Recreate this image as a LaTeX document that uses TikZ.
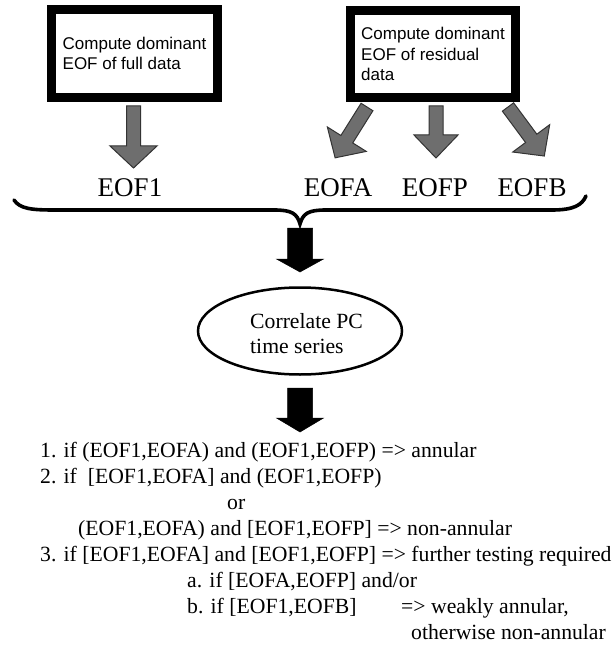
\documentclass[tikz,border=0pt]{standalone}
\usepackage{fontspec}
\usetikzlibrary{shapes.geometric}
\setmainfont{Liberation Serif}
\newfontfamily\boxfont{Liberation Sans}
\begin{document}
\begin{tikzpicture}[x=1pt,y=1pt,
  thickbox/.style={draw=black, line width=9pt, fill=white, rectangle, inner sep=0pt,
     align=left, font=\boxfont\fontsize{17}{20.5}\selectfont},
  eoflabel/.style={inner sep=0pt, anchor=base, font=\fontsize{27}{30}\selectfont},
  listline/.style={inner sep=0pt, anchor=base west, font=\fontsize{21.7}{26}\selectfont},
  greyarrow/.style={fill=black!57, draw=black!80, line width=1pt, line join=miter},
  blackarrow/.style={fill=black, draw=black, line width=0.5pt},
  bracestyle/.style={draw=black, line width=3.6pt, line cap=round}
]
\useasboundingbox (0,0) rectangle (613,-647);

% block arrow: start coordinate, angle, length, shaft width, head width, head length, style
\newcommand{\blockarr}[7]{%
  \begin{scope}[shift={(#1)}, rotate=#2]
    \path[#7] (0,-#4/2) -- (#3-#6,-#4/2) -- (#3-#6,-#5/2) -- (#3,0)
       -- (#3-#6,#5/2) -- (#3-#6,#4/2) -- (0,#4/2) -- cycle;
  \end{scope}}

% boxes
\node[thickbox, minimum width=166pt, minimum height=88pt] (fullbox) at (134.5,-53.5)
  {Compute dominant\\EOF of full data};
\node[thickbox, minimum width=165pt, minimum height=87pt] (resbox) at (433,-54)
  {Compute dominant\\EOF of residual\\data};

% arrow start coordinates
\coordinate (a1s) at (133.5,-106);
\coordinate (aAs) at (367,-107);
\coordinate (aPs) at (436,-106);
\coordinate (aBs) at (508,-107);

\blockarr{a1s}{-90}{62}{14}{47}{22}{greyarrow}
\blockarr{aAs}{-122.1}{60}{14}{46}{22}{greyarrow}
\blockarr{aPs}{-90}{52}{14}{44}{23}{greyarrow}
\blockarr{aBs}{-53.5}{61}{14}{46}{22}{greyarrow}

% labels
\node[eoflabel] (eof1) at (130,-196) {EOF1};
\node[eoflabel] (eofa) at (338,-196) {EOFA};
\node[eoflabel] (eofp) at (435,-196) {EOFP};
\node[eoflabel] (eofb) at (532,-196) {EOFB};

% brace
\coordinate (bl) at (14,-200);
\coordinate (btip) at (300,-224);
\coordinate (br) at (586,-196);
\draw[bracestyle] (bl) .. controls (20,-209) and (32,-210) .. (55,-210)
  -- (274,-210) .. controls (291,-210) and (297,-213) .. (btip)
  .. controls (303,-213) and (309,-210) .. (326,-210)
  -- (552,-210) .. controls (574,-210) and (582,-205) .. (br);

% black arrows
\coordinate (k1s) at (300,-228);
\blockarr{k1s}{-90}{44}{25}{47}{13}{blackarrow}

\node[draw=black, line width=2.5pt, ellipse, minimum width=204pt, minimum height=87pt,
   inner sep=0pt] (corr) at (300,-331) {};
\node[inner sep=0pt, anchor=base west, align=left, font=\fontsize{21.7}{25}\selectfont]
  (corrtext) at (250,-353) {Correlate PC\\time series};

\coordinate (k2s) at (300,-388);
\blockarr{k2s}{-90}{44}{25}{47}{14}{blackarrow}

% rules
\node[listline] (r1) at (40,-457) {1. if (EOF1,EOFA) and (EOF1,EOFP) => annular};
\node[listline] (r2) at (40,-483) {2. if~ [EOF1,EOFA] and (EOF1,EOFP)};
\node[listline] (r2or) at (227,-509) {or};
\node[listline] (r2b) at (78,-535) {(EOF1,EOFA) and [EOF1,EOFP] => non-annular};
\node[listline] (r3) at (40,-561) {3. if [EOF1,EOFA] and [EOF1,EOFP] => further testing required};
\node[listline] (r3a) at (187,-587) {a. if [EOFA,EOFP] and/or};
\node[listline] (r3b) at (187,-613) {b. if [EOF1,EOFB]};
\node[listline] (r3bres) at (401,-613) {=> weakly annular,};
\node[listline] (r3else) at (411,-639) {otherwise non-annular};
\end{tikzpicture}
\end{document}
